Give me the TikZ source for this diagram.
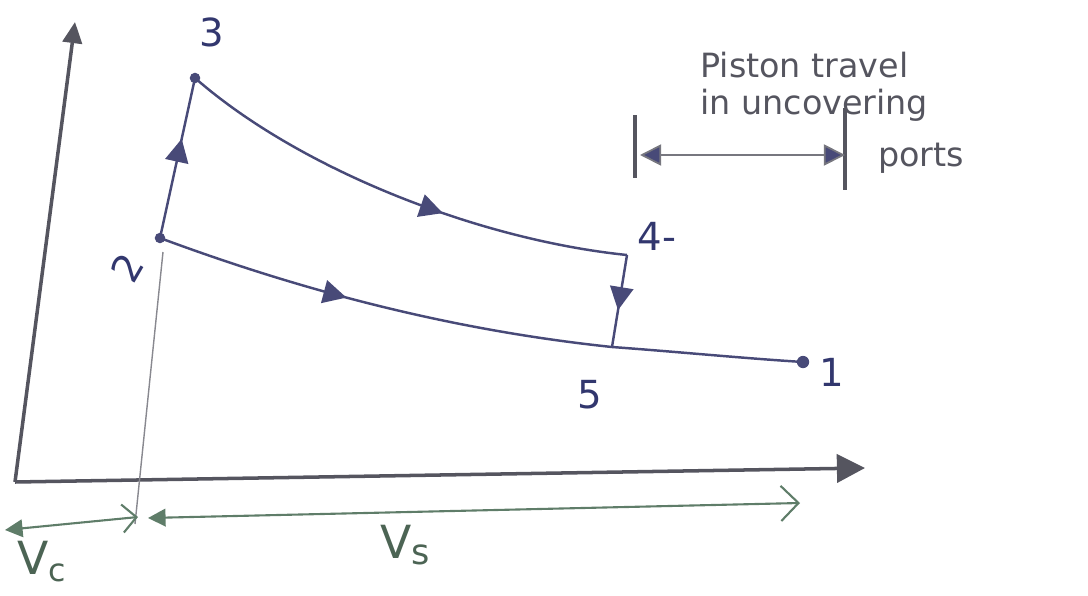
\documentclass[tikz,border=0pt]{standalone}
\usepackage{fontspec}
\setmainfont{DejaVu Sans}
\usetikzlibrary{arrows.meta,decorations.markings}
\definecolor{pen}{RGB}{72,74,120}
\definecolor{axis}{RGB}{85,85,95}
\definecolor{grn}{RGB}{95,125,105}
\definecolor{lbl}{RGB}{50,55,110}
\tikzset{
  curve/.style={draw=pen, line width=1.4pt},
  axisline/.style={draw=axis, line width=2pt},
  dimline/.style={draw=grn, line width=1.2pt},
  midarrow/.style={postaction={decorate},decoration={markings,mark=at position #1 with {\arrow[pen,scale=1.1]{Triangle[length=12pt,width=12pt]}}}},
  lab/.style={text=lbl, font=\fontsize{22}{24}\selectfont, inner sep=1pt},
  dot/.style={circle, fill=pen, inner sep=0pt, minimum size=7pt},
}
\begin{document}
\begin{tikzpicture}[x=0.02cm,y=-0.02cm]
\useasboundingbox (0,0) rectangle (1088,595);
% axes
\coordinate (O) at (15,482);
\coordinate (Ytop) at (75,22);
\coordinate (Xend) at (865,468);
\draw[axisline,-{Triangle[length=12pt,width=11pt]}] (O) -- (Ytop);
\draw[axisline,-{Triangle[length=16pt,width=16pt]}] (O) -- (Xend);
% state points
\node[dot, minimum size=6pt] (p2) at (160,238) {};
\node[dot, minimum size=6pt] (p3) at (195,78) {};
\coordinate (p4) at (627,255);
\coordinate (p5) at (612,347);
\node[dot] (p1) at (803,362) {};
% labels of points
\node[lab] (l3) at (212,32) {3};
\node[lab, rotate=60] (l2) at (127,268) {2};
\node[lab] (l4) at (657,236) {4-};
\node[lab] (l5) at (590,395) {5};
\node[lab] (l1) at (832,372) {1};
% process lines
\draw[curve, midarrow=0.62] (p2.center) -- (p3.center);
\draw[curve, midarrow=0.6] (p3.center) .. controls (300,170) and (480,240) .. (p4);
\draw[curve, midarrow=0.6] (p4) -- (p5);
\draw[curve, midarrow=0.42] (p2.center) .. controls (300,290) and (450,330) .. (p5);
\draw[curve] (p5) .. controls (680,352) and (740,358) .. (p1.center);
% vertical clearance line
\coordinate (vtop) at (163,252);
\coordinate (vbot) at (135,524);
\draw[axis!70, line width=0.8pt] (vtop) -- (vbot);
% Vc and Vs dimension arrows
\coordinate (vcL) at (5,530);
\coordinate (vcR) at (138,517);
\coordinate (vsL) at (148,518);
\coordinate (vsR) at (800,503);
\draw[dimline,{Triangle[length=10pt,width=10pt]}-{Straight Barb[length=8pt]}] (vcL) -- (vcR);
\draw[dimline,{Triangle[length=10pt,width=10pt]}-{Straight Barb[length=10pt]}] (vsL) -- (vsR);
\node[text=grn!80!black, font=\fontsize{26}{28}\selectfont] (vc) at (42,562) {V\raisebox{-4pt}{\fontsize{18}{20}\selectfont c}};
\node[text=grn!80!black, font=\fontsize{26}{28}\selectfont] (vs) at (405,545) {V\raisebox{-3pt}{\fontsize{20}{22}\selectfont s}};
% piston travel bracket
\coordinate (bL1) at (635,115);
\coordinate (bL2) at (635,178);
\coordinate (bR1) at (845,108);
\coordinate (bR2) at (845,190);
\coordinate (aL) at (640,155);
\coordinate (aR) at (845,155);
\draw[axis, line width=1.8pt] (bL1) -- (bL2);
\draw[axis, line width=1.8pt] (bR1) -- (bR2);
\draw[axis!80, line width=1pt, {Triangle[length=12pt,width=12pt,fill=pen]}-{Triangle[length=12pt,width=12pt,fill=pen]}] (aL) -- (aR);
\node[text=axis, font=\fontsize{19}{21}\selectfont, align=left, anchor=north west, inner sep=0pt] (pt) at (700,52) {Piston travel\\in uncovering};
\node[text=axis, font=\fontsize{19}{21}\selectfont, anchor=west, inner sep=0pt] (ports) at (878,158) {ports};
\end{tikzpicture}
\end{document}
